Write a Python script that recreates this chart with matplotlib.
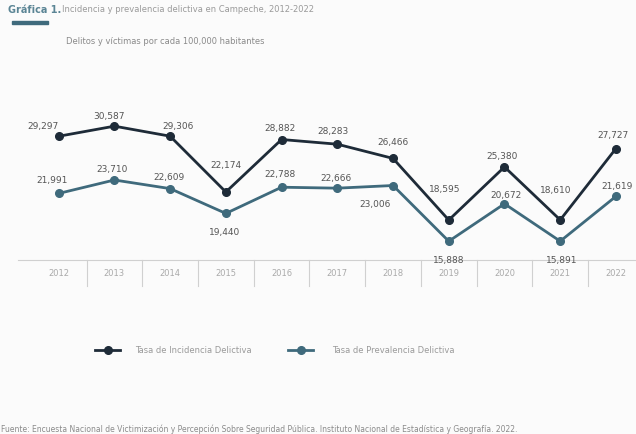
import matplotlib
matplotlib.use("Agg")
import matplotlib.pyplot as plt
from matplotlib.lines import Line2D

years = ["2012", "2013", "2014", "2015", "2016", "2017", "2018", "2019", "2020", "2021", "2022"]
incidencia = [29297, 30587, 29306, 22174, 28882, 28283, 26466, 18595, 25380, 18610, 27727]
prevalencia = [21991, 23710, 22609, 19440, 22788, 22666, 23006, 15888, 20672, 15891, 21619]

inc_lbl = ["29,297", "30,587", "29,306", "22,174", "28,882", "28,283", "26,466", "18,595", "25,380", "18,610", "27,727"]
prev_lbl = ["21,991", "23,710", "22,609", "19,440", "22,788", "22,666", "23,006", "15,888", "20,672", "15,891", "21,619"]

# label offsets in points (dx, dy)
inc_off = [(-11, 8), (-4, 8), (6, 8), (0, 20), (-1, 9), (-3, 10), (0, 12), (-3, 23), (-2, 8), (-3, 22), (-2, 10)]
prev_off = [(-5, 10), (-2, 8), (-1, 9), (-1, -13), (-1, 10), (-1, 8), (-13, -13), (0, -13), (1, 7), (1, -13), (1, 8)]

c_inc = "#1e2b38"
c_prev = "#3f6a7c"

fig = plt.figure(figsize=(6.36, 4.35), dpi=100, facecolor="#fbfbfb")
ax = fig.add_axes([18/636, 0.40, 618/636, 0.37])
ax.set_facecolor("none")
x = list(range(len(years)))
ax.plot(x, incidencia, color=c_inc, lw=2, marker="o", ms=5.5, zorder=3)
ax.plot(x, prevalencia, color=c_prev, lw=2, marker="o", ms=5.5, zorder=3)
for i in x:
    ax.annotate(inc_lbl[i], (i, incidencia[i]), xytext=inc_off[i], textcoords="offset points",
                ha="center", va="center", fontsize=6.5, color="#555555")
    ax.annotate(prev_lbl[i], (i, prevalencia[i]), xytext=prev_off[i], textcoords="offset points",
                ha="center", va="center", fontsize=6.5, color="#555555")
ax.set_xlim(-0.73, 10.36)
ax.set_ylim(13490, 34050)
for s in ["top", "right", "left"]:
    ax.spines[s].set_visible(False)
ax.spines["bottom"].set_color("#d0d0d0")
ax.spines["bottom"].set_linewidth(0.8)
ax.set_xticks([])
ax.set_yticks([])
trans = ax.get_xaxis_transform()
for i in range(len(years) - 1):
    ax.plot([i + 0.5, i + 0.5], [0, -0.16], transform=trans, color="#d0d0d0", lw=0.8, clip_on=False)
for i, y in enumerate(years):
    ax.text(i, -0.075, y, transform=trans, ha="center", va="center", fontsize=6, color="#aaaaaa")

# title
fig.text(8/636, 1 - 10/435, "Gráfica 1.", fontsize=7, fontweight="bold", color="#5b8595", va="center")
fig.text(62/636, 1 - 10/435, "Incidencia y prevalencia delictiva en Campeche, 2012-2022", fontsize=6,
         color="#9a9a9a", va="center")
fig.add_artist(plt.Rectangle((12/636, 1 - 25/435), 36/636, 3/435, color="#3f6a7c", transform=fig.transFigure))
fig.text(66/636, 1 - 42/435, "Delitos y víctimas por cada 100,000 habitantes", fontsize=6, color="#8a8a8a", va="center")

# legend
ly = 1 - 351/435
for (x0, x1, col, lab, tx) in [(95, 120, c_inc, "Tasa de Incidencia Delictiva", 135),
                               (288, 313, c_prev, "Tasa de Prevalencia Delictiva", 332)]:
    fig.add_artist(Line2D([x0/636, x1/636], [ly, ly], color=col, lw=2, transform=fig.transFigure))
    fig.add_artist(Line2D([(x0 + x1)/2/636], [ly], color=col, marker="o", ms=5.5, transform=fig.transFigure))
    fig.text(tx/636, ly, lab, fontsize=6, color="#9a9a9a", va="center")

fig.text(1/636, 1 - 429/435,
         "Fuente: Encuesta Nacional de Victimización y Percepción Sobre Seguridad Pública. Instituto Nacional de Estadística y Geografía. 2022.",
         fontsize=5.5, color="#8a8a8a", va="center")

fig.savefig("out.png", dpi=100, facecolor=fig.get_facecolor())
